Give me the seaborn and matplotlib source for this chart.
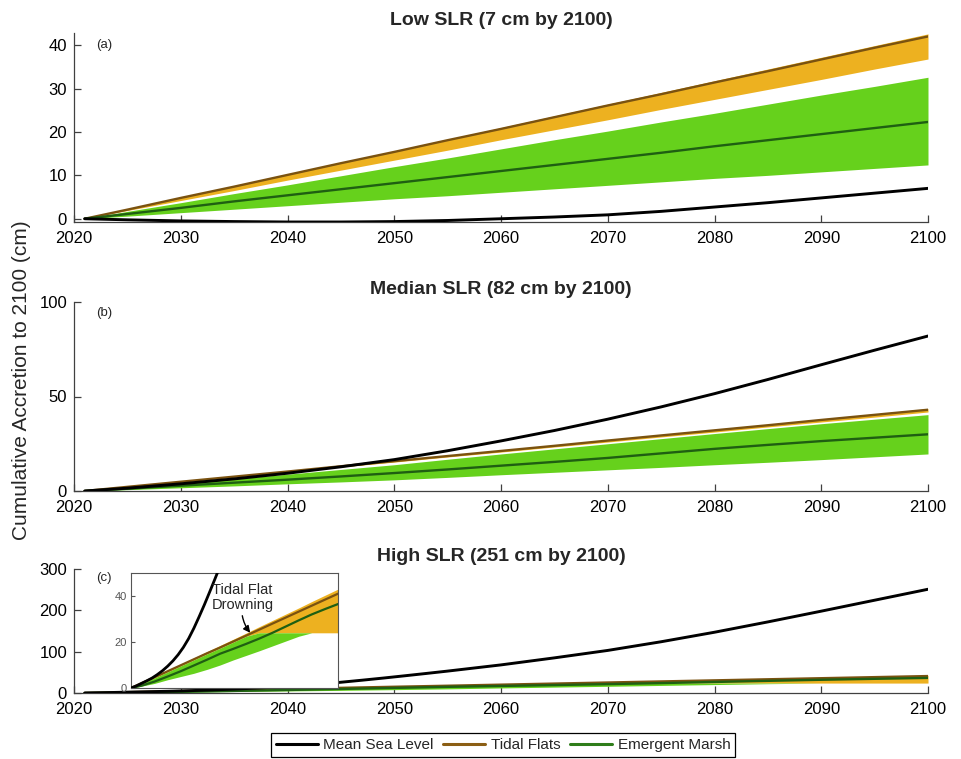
import matplotlib
matplotlib.use("Agg")
import matplotlib.pyplot as plt
from matplotlib.lines import Line2D
import seaborn as sns
import pandas as pd

# ---- data (cm of cumulative change since 2021) ----
years = [2021, 2025, 2030, 2035, 2040, 2045, 2050, 2055, 2060,
         2065, 2070, 2075, 2080, 2085, 2090, 2095, 2100]

# Low SLR scenario
msl_low = [0, -0.25, -0.5, -0.65, -0.75, -0.75, -0.65, -0.4, 0.0,
           0.4, 0.9, 1.7, 2.7, 3.7, 4.8, 5.9, 7.0]
tf_low = [0, 2.1, 4.8, 7.4, 10.1, 12.8, 15.4, 18.1, 20.7,
          23.4, 26.1, 28.7, 31.4, 34.0, 36.7, 39.4, 42.0]
tf_low_hi = [0, 2.2, 4.9, 7.5, 10.2, 12.9, 15.6, 18.3, 21.0,
             23.7, 26.4, 29.1, 31.8, 34.5, 37.2, 39.9, 42.6]
tf_low_lo = [0, 1.9, 4.2, 6.5, 8.9, 11.2, 13.5, 15.8, 18.2,
             20.5, 22.8, 25.2, 27.5, 29.8, 32.1, 34.5, 36.8]
em_low = [0, 1.1, 2.5, 4.0, 5.4, 6.8, 8.2, 9.6, 11.0,
          12.4, 13.8, 15.2, 16.7, 18.1, 19.5, 20.9, 22.3]
em_low_hi = [0, 1.7, 3.7, 5.8, 7.8, 9.9, 12.0, 14.0, 16.1,
             18.2, 20.2, 22.3, 24.3, 26.4, 28.5, 30.5, 32.6]
em_low_lo = [0, 0.6, 1.4, 2.2, 3.0, 3.8, 4.6, 5.3, 6.1,
             6.9, 7.7, 8.5, 9.3, 10.0, 10.8, 11.6, 12.4]

# Median SLR scenario
msl_med = [0, 1.5, 3.8, 6.4, 9.4, 12.8, 16.6, 21.3, 26.5,
           32.0, 38.0, 44.5, 51.5, 59.0, 66.8, 74.5, 82.0]
tf_med = [0, 2.2, 4.9, 7.6, 10.3, 13.1, 15.8, 18.5, 21.2,
          23.9, 26.7, 29.4, 32.1, 34.8, 37.6, 40.3, 43.0]
tf_med_hi = [0, 2.2, 5.0, 7.7, 10.5, 13.2, 16.0, 18.8, 21.5,
             24.3, 27.0, 29.8, 32.6, 35.3, 38.1, 40.8, 43.6]
tf_med_lo = [0, 2.1, 4.8, 7.4, 10.1, 12.7, 15.3, 18.0, 20.6,
             23.3, 25.9, 28.6, 31.2, 33.9, 36.5, 39.1, 41.8]
em_med = [0, 1.2, 2.8, 4.4, 6.0, 7.7, 9.5, 11.4, 13.4,
          15.4, 17.5, 19.9, 22.3, 24.4, 26.4, 28.2, 30.0]
em_med_hi = [0, 1.8, 4.1, 6.4, 8.9, 11.4, 13.9, 16.8, 19.6,
             22.3, 25.0, 27.7, 30.4, 33.0, 35.6, 38.0, 40.4]
em_med_lo = [0, 0.7, 1.7, 2.7, 3.8, 4.8, 5.9, 7.2, 8.6,
             9.9, 11.2, 12.5, 13.9, 15.2, 16.6, 18.1, 19.6]

# High SLR scenario (sea level sampled more finely where it bends most)
msl_high_years = [2021, 2023, 2025, 2027, 2029, 2031, 2033, 2035, 2037,
                  2039, 2041, 2043, 2045, 2047, 2049, 2051, 2053, 2055,
                  2060, 2065, 2070, 2075, 2080, 2085, 2090, 2095, 2100]
msl_high = [0, 0.9, 2.0, 3.1, 4.3, 5.8, 7.5, 9.5, 11.8,
            14.5, 17.7, 21.5, 26.0, 31.0, 36.2, 41.7, 47.3, 53.0,
            68.0, 85.0, 103.0, 124.0, 147.0, 172.0, 198.0, 224.5, 251.0]
tf_high = [0, 2.1, 4.7, 7.3, 9.9, 12.5, 15.1, 17.6, 20.2,
           22.8, 25.4, 28.0, 30.6, 33.2, 35.8, 38.4, 41.0]
tf_high_hi = [0, 2.2, 4.9, 7.6, 10.3, 13.1, 15.8, 18.5, 21.2,
              23.9, 26.7, 29.4, 32.1, 34.8, 37.6, 40.3, 43.0]
tf_high_lo = [0, 1.9, 4.4, 7.0, 9.6, 12.2, 14.8, 17.3, 19.9,
              22.5, 24.0, 24.0, 24.0, 24.0, 24.0, 24.0, 24.0]
em_high = [0, 1.0, 2.8, 5.0, 7.3, 9.8, 12.3, 14.9, 17.0,
           19.2, 21.5, 24.0, 26.7, 29.4, 32.0, 34.3, 36.5]
em_high_hi = [0, 1.9, 4.4, 7.0, 9.6, 12.2, 14.8, 17.3, 19.9,
              22.5, 24.0, 24.0, 24.0, 24.0, 24.0, 24.0, 24.0]
em_high_lo = [0, 0.8, 2.0, 3.6, 5.0, 6.4, 8.1, 10.0, 12.2,
              14.2, 16.2, 18.3, 20.4, 22.5, 24.0, 24.0, 24.0]

titles = ["Low SLR (7 cm by 2100)", "Median SLR (82 cm by 2100)",
          "High SLR (251 cm by 2100)"]
panel_tags = ["(a)", "(b)", "(c)"]
xticks = [2020, 2030, 2040, 2050, 2060, 2070, 2080, 2090, 2100]
yticks = [[0, 10, 20, 30, 40], [0, 50, 100], [0, 100, 200, 300]]
ylims = [(-0.75, 42.8), (0, 100), (0, 300)]
legend_labels = ["Mean Sea Level", "Tidal Flats", "Emergent Marsh"]

# ---- styling ----
sns.set_theme(style="white")
plt.rcParams["font.family"] = ["Liberation Sans", "DejaVu Sans"]

C_MSL = "#000000"
C_TF = "#7a5210"
C_TF_BAND = "#edb120"
C_EM = "#1f5f12"
C_EM_BAND = "#66d11c"
C_LEG_TF = "#8b5e14"
C_LEG_EM = "#2e7d1a"
AX_COL = "#404040"

scen = [
    dict(msl_x=years, msl=msl_low, tf=tf_low, tf_hi=tf_low_hi,
         tf_lo=tf_low_lo, em=em_low, em_hi=em_low_hi, em_lo=em_low_lo),
    dict(msl_x=years, msl=msl_med, tf=tf_med, tf_hi=tf_med_hi,
         tf_lo=tf_med_lo, em=em_med, em_hi=em_med_hi, em_lo=em_med_lo),
    dict(msl_x=msl_high_years, msl=msl_high, tf=tf_high, tf_hi=tf_high_hi,
         tf_lo=tf_high_lo, em=em_high, em_hi=em_high_hi, em_lo=em_high_lo),
]

W, H = 961, 759
fig = plt.figure(figsize=(W / 100, H / 100), dpi=100)


def px_rect(left, top, right, bottom):
    return [left / W, 1 - bottom / H, (right - left) / W, (bottom - top) / H]


def draw_series(ax, d, lw=1.7):
    df = pd.DataFrame({"year": years, "tf": d["tf"], "tf_hi": d["tf_hi"],
                       "tf_lo": d["tf_lo"], "em": d["em"],
                       "em_hi": d["em_hi"], "em_lo": d["em_lo"]})
    df_msl = pd.DataFrame({"year": d["msl_x"], "msl": d["msl"]})
    ax.fill_between(df["year"], df["tf_lo"], df["tf_hi"], color=C_TF_BAND,
                    linewidth=0, zorder=1)
    ax.fill_between(df["year"], df["em_lo"], df["em_hi"], color=C_EM_BAND,
                    linewidth=0, zorder=2)
    sns.lineplot(data=df, x="year", y="tf", ax=ax, color=C_TF, lw=lw,
                 estimator=None, zorder=3, legend=False)
    sns.lineplot(data=df, x="year", y="em", ax=ax, color=C_EM, lw=lw,
                 estimator=None, zorder=4, legend=False)
    sns.lineplot(data=df_msl, x="year", y="msl", ax=ax, color=C_MSL,
                 lw=lw + 0.4, estimator=None, zorder=5, legend=False)


boxes = [px_rect(74, 33, 928, 222), px_rect(74, 302, 928, 491),
         px_rect(74, 569, 928, 693)]
tag_pos = [(96, 45), (96, 313), (96, 578)]

for i, d in enumerate(scen):
    ax = fig.add_axes(boxes[i])
    draw_series(ax, d)
    ax.set_xlim(2020, 2100)
    ax.set_ylim(*ylims[i])
    ax.set_xticks(xticks)
    ax.set_yticks(yticks[i])
    ax.set_xlabel("")
    ax.set_ylabel("")
    for s in ["top", "right"]:
        ax.spines[s].set_visible(False)
    for s in ["left", "bottom"]:
        ax.spines[s].set_color(AX_COL)
        ax.spines[s].set_linewidth(0.9)
    ax.tick_params(direction="in", length=5, width=0.9, colors=AX_COL,
                   labelcolor="black", labelsize=12,
                   left=True, bottom=True)
    ax.tick_params(axis="x", pad=6.5)
    ax.tick_params(axis="y", pad=5)
    ax.set_title(titles[i], fontsize=14, fontweight="bold", pad=6)
    fig.text(tag_pos[i][0] / W, 1 - tag_pos[i][1] / H, panel_tags[i],
             fontsize=9.5, ha="left", va="center")

# inset of the high scenario, zoomed into the lowest 50 cm
axin = fig.add_axes(px_rect(131, 573, 338, 688))
draw_series(axin, scen[2], lw=1.6)
axin.set_xlim(2021, 2100)
axin.set_ylim(0, 50)
axin.set_xticks([])
axin.set_yticks([0, 20, 40])
axin.set_xlabel("")
axin.set_ylabel("")
for s in axin.spines.values():
    s.set_visible(True)
    s.set_color("#555555")
    s.set_linewidth(0.8)
axin.tick_params(axis="y", direction="in", length=3, width=0.8,
                 colors="#555555", labelcolor="#555555", labelsize=8, pad=3,
                 left=True)
axin.set_facecolor("white")
axin.annotate("Tidal Flat\nDrowning", xy=(2066.5, 24.0),
              xytext=(2052, 45.5), textcoords="data",
              ha="left", va="top", fontsize=10.5, linespacing=1.1,
              arrowprops=dict(arrowstyle="-|>", color="black", lw=1.0,
                              shrinkA=0, shrinkB=0,
                              connectionstyle="arc3,rad=0.25",
                              mutation_scale=10),
              zorder=6)

fig.text(22 / W, 0.4993, "Cumulative Accretion to 2100 (cm)", rotation=90,
         ha="center", va="center", fontsize=15)

handles = [Line2D([], [], color=C_MSL, lw=2.2),
           Line2D([], [], color=C_LEG_TF, lw=2.2),
           Line2D([], [], color=C_LEG_EM, lw=2.2)]
leg = fig.legend(handles, legend_labels, loc="center",
                 bbox_to_anchor=(503 / W, 1 - 745 / H), ncol=3,
                 frameon=True, fancybox=False, edgecolor="black",
                 framealpha=1, fontsize=11, handlelength=2.75,
                 handletextpad=0.35, columnspacing=0.65, borderpad=0.3,
                 borderaxespad=0)
leg.get_frame().set_linewidth(0.9)

fig.savefig("out.png", dpi=100)
